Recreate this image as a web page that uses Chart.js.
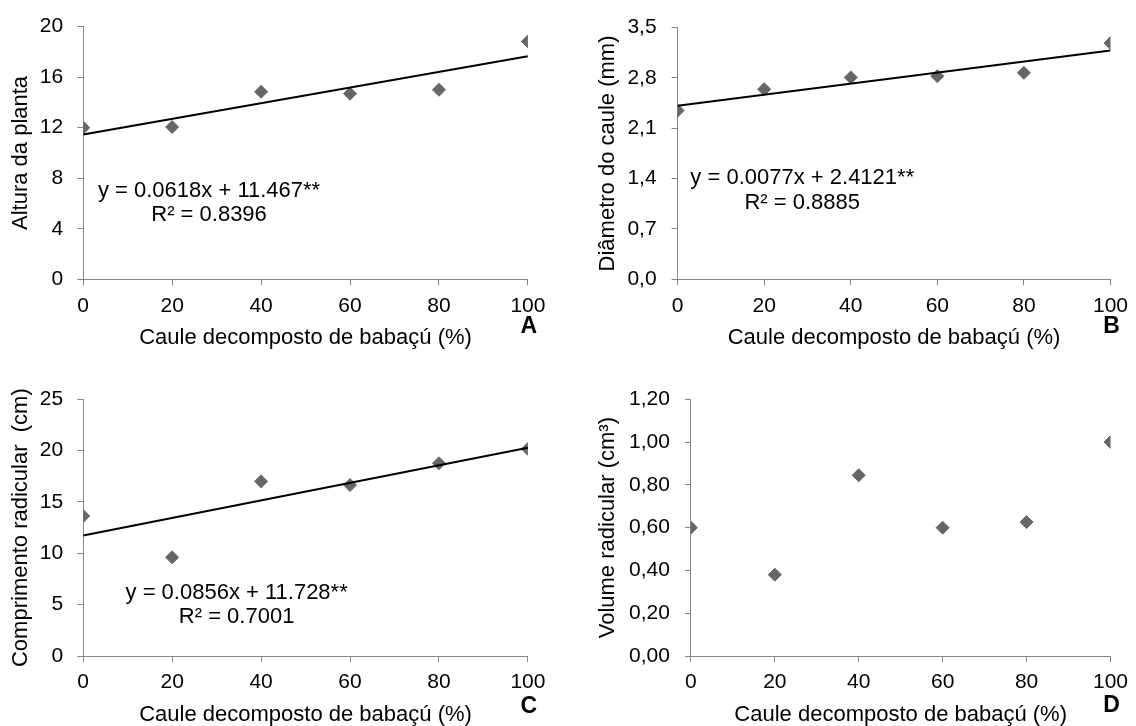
<!DOCTYPE html>
<html>
<head>
<meta charset="utf-8">
<script src="https://cdn.jsdelivr.net/npm/chart.js@4/dist/chart.umd.min.js"></script>
<style>
  html, body { margin:0; padding:0; background:#fff; }
  body { width:1136px; height:726px; overflow:hidden; position:relative; }
  .panel { position:absolute; }
  canvas { display:block; }
</style>
</head>
<body>
<div class="panel" style="left:0;top:0;"><canvas id="cA" width="568" height="363"></canvas></div>
<div class="panel" style="left:568px;top:0;"><canvas id="cB" width="568" height="363"></canvas></div>
<div class="panel" style="left:0;top:363px;"><canvas id="cC" width="568" height="366"></canvas></div>
<div class="panel" style="left:568px;top:363px;"><canvas id="cD" width="568" height="366"></canvas></div>
<script>
// ---- data ----
const xValues = [0, 20, 40, 60, 80, 100];
const xTicks = [0, 20, 40, 60, 80, 100];
const xTitle = 'Caule decomposto de babaçú (%)';

const alturaPlanta = [12.0, 12.05, 14.84, 14.69, 15.0, 18.83];
const diametroCaule = [2.346, 2.643, 2.807, 2.825, 2.871, 3.285];
const comprimentoRadicular = [13.63, 9.61, 17.01, 16.65, 18.77, 20.16];
const volumeRadicular = [0.600, 0.380, 0.845, 0.600, 0.626, 1.00];

const trendX = [0, 100];
const trendA = [11.467, 17.647];
const trendB = [2.4121, 3.1821];
const trendC = [11.728, 20.288];

const yTicksA = [0, 4, 8, 12, 16, 20];
const yLabelsA = ['0', '4', '8', '12', '16', '20'];
const yTicksB = [0, 0.7, 1.4, 2.1, 2.8, 3.5];
const yLabelsB = ['0,0', '0,7', '1,4', '2,1', '2,8', '3,5'];
const yTicksC = [0, 5, 10, 15, 20, 25];
const yLabelsC = ['0', '5', '10', '15', '20', '25'];
const yTicksD = [0, 0.2, 0.4, 0.6, 0.8, 1.0, 1.2];
const yLabelsD = ['0,00', '0,20', '0,40', '0,60', '0,80', '1,00', '1,20'];

const eqA = ['y = 0.0618x + 11.467**', 'R² = 0.8396'];
const eqB = ['y = 0.0077x + 2.4121**', 'R² = 0.8885'];
const eqC = ['y = 0.0856x + 11.728**', 'R² = 0.7001'];

// ---- styling ----
const FONT = '"Liberation Sans", Arial, Helvetica, sans-serif';
const AXIS_GRAY = '#868686';
const MARKER = '#666666';

const overlayPlugin = {
  id: 'overlay',
  afterDraw(chart) {
    const o = chart.options.plugins.overlay || {};
    const ctx = chart.ctx;
    const xs = chart.scales.x, ys = chart.scales.y;
    ctx.save();
    if (o.eq) {
      ctx.font = '22px ' + FONT;
      ctx.fillStyle = '#000';
      ctx.textAlign = 'center';
      ctx.textBaseline = 'middle';
      const px = xs.getPixelForValue(o.eqX);
      const py = ys.getPixelForValue(o.eqY);
      o.eq.forEach((t, i) => ctx.fillText(t, px, py + i * o.eqGap));
    }
    if (o.letter) {
      ctx.font = 'bold 23px ' + FONT;
      ctx.fillStyle = '#000';
      ctx.textAlign = 'center';
      ctx.textBaseline = 'middle';
      ctx.fillText(o.letter, chart.chartArea.right + 1, chart.chartArea.bottom + o.letterDy);
    }
    ctx.restore();
  }
};

function makePanel(id, p) {
  const pts = xValues.map((x, i) => ({ x: x, y: p.values[i] }));
  const datasets = [];
  if (p.trend) {
    datasets.push({
      type: 'line',
      data: trendX.map((x, i) => ({ x: x, y: p.trend[i] })),
      borderColor: '#000',
      borderWidth: 2,
      pointRadius: 0,
      fill: false,
      tension: 0
    });
  }
  datasets.push({
    type: 'scatter',
    data: pts,
    pointStyle: 'rectRot',
    pointRadius: 6.5,
    backgroundColor: MARKER,
    borderColor: MARKER,
    borderWidth: 1
  });
  new Chart(document.getElementById(id), {
    type: 'scatter',
    data: { datasets },
    plugins: [overlayPlugin],
    options: {
      responsive: false,
      animation: false,
      devicePixelRatio: 1,
      layout: { padding: { left: 0, top: p.padTop, right: p.padRight, bottom: p.padBottom } },
      plugins: {
        legend: { display: false },
        tooltip: { enabled: false },
        overlay: { eq: p.eq, eqX: p.eqX, eqY: p.eqY, eqGap: 24.5, letter: p.letter, letterDy: p.letterDy }
      },
      scales: {
        x: {
          type: 'linear',
          position: 'bottom',
          min: 0, max: 100,
          afterBuildTicks: s => { s.ticks = xTicks.map(v => ({ value: v })); },
          afterFit: s => { s.height = 72; },
          ticks: { font: { family: FONT, size: 21 }, color: '#000', padding: 8, maxRotation: 0 },
          grid: { drawOnChartArea: false, drawTicks: true, tickLength: 6, color: AXIS_GRAY },
          border: { display: true, color: AXIS_GRAY, width: 1 },
          title: { display: true, text: xTitle, color: '#000', font: { family: FONT, size: 22, lineHeight: 1.2 }, padding: { top: 0, bottom: 0 } }
        },
        y: {
          type: 'linear',
          position: 'left',
          min: p.yTicks[0], max: p.yTicks[p.yTicks.length - 1],
          afterBuildTicks: s => { s.ticks = p.yTicks.map(v => ({ value: v })); },
          afterFit: s => { s.width = p.yWidth; },
          ticks: {
            font: { family: FONT, size: 21 }, color: '#000', padding: p.tickPad,
            callback: (v, i) => p.yLabels[i]
          },
          grid: { drawOnChartArea: false, drawTicks: true, tickLength: 6, color: AXIS_GRAY },
          border: { display: true, color: AXIS_GRAY, width: 1 },
          title: { display: true, text: p.yTitle, color: '#000', font: { family: FONT, size: 22, lineHeight: 1.2 }, padding: { top: p.titlePad, bottom: 0 } }
        }
      }
    }
  });
}

makePanel('cA', {
  values: alturaPlanta, trend: trendA, yTicks: yTicksA, yLabels: yLabelsA,
  yTitle: 'Altura da planta', eq: eqA, eqX: 28.3, eqY: 7.03, letter: 'A', letterDy: 47,
  yWidth: 83.2, padTop: 23.3, padRight: 40.1, padBottom: 11.7, tickPad: 14, titlePad: 7.5
});
makePanel('cB', {
  values: diametroCaule, trend: trendB, yTicks: yTicksB, yLabels: yLabelsB,
  yTitle: 'Diâmetro do caule (mm)', eq: eqB, eqX: 28.8, eqY: 1.403, letter: 'B', letterDy: 47,
  yWidth: 109.6, padTop: 23.3, padRight: 19.7, padBottom: 11.7, tickPad: 15, titlePad: 27
});
makePanel('cC', {
  values: comprimentoRadicular, trend: trendC, yTicks: yTicksC, yLabels: yLabelsC,
  yTitle: 'Comprimento radicular  (cm)', eq: eqC, eqX: 34.5, eqY: 6.16, letter: 'C', letterDy: 51,
  yWidth: 83.2, padTop: 36.3, padRight: 40.1, padBottom: 1, tickPad: 14, titlePad: 7.5
});
makePanel('cD', {
  values: volumeRadicular, trend: null, yTicks: yTicksD, yLabels: yLabelsD,
  yTitle: 'Volume radicular (cm³)', eq: null, letter: 'D', letterDy: 50,
  yWidth: 122.9, padTop: 36.3, padRight: 19.7, padBottom: 1, tickPad: 15, titlePad: 27
});
</script>
</body>
</html>
